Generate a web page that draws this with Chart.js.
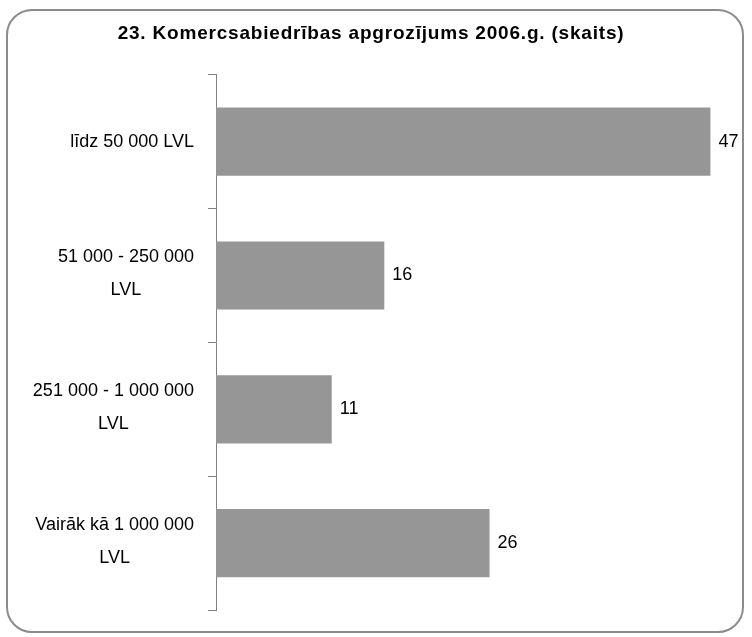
<!DOCTYPE html>
<html>
<head>
<meta charset="utf-8">
<script src="https://cdn.jsdelivr.net/npm/chart.js@4"></script>
<style>
  body { margin: 0; background: #fff; }
  #wrap { position: relative; width: 752px; height: 637px; }
  #frame {
    position: absolute; left: 6px; top: 9px; width: 738px; height: 624px;
    border: 2px solid #8c8c8c; border-radius: 26px; box-sizing: border-box;
  }
  canvas { position: absolute; left: 0; top: 0; }
</style>
</head>
<body>
<div id="wrap">
  <div id="frame"></div>
  <canvas id="myChart" width="752" height="637"></canvas>
</div>
<script>
const titleText = '23. Komercsabiedrības apgrozījums 2006.g. (skaits)';
const categories = [
    ['līdz 50 000 LVL'],
    ['51 000 - 250 000', 'LVL'],
    ['251 000 - 1 000 000', 'LVL'],
    ['Vairāk kā 1 000 000', 'LVL']
];
const values = [47, 16, 11, 26];

const fontFamily = '"Liberation Sans", Arial, sans-serif';

// a bit of letter spacing for the title only (title box is drawn before the datasets)
const titleSpacing = {
    id: 'titleSpacing',
    beforeDraw(chart) { chart.ctx.letterSpacing = '0.8px'; },
    beforeDatasetsDraw(chart) { chart.ctx.letterSpacing = '0px'; }
};

// value labels at the end of each bar
const valueLabels = {
    id: 'valueLabels',
    afterDatasetsDraw(chart) {
        const ctx = chart.ctx;
        const meta = chart.getDatasetMeta(0);
        ctx.save();
        ctx.font = '18px ' + fontFamily;
        ctx.fillStyle = '#000';
        ctx.textAlign = 'left';
        ctx.textBaseline = 'middle';
        meta.data.forEach((bar, i) => {
            ctx.fillText(String(values[i]), bar.x + 8, bar.y);
        });
        ctx.restore();
    }
};

// category labels: each line centred on the widest line of its label
const catLabels = {
    id: 'catLabels',
    afterDraw(chart) {
        const ctx = chart.ctx;
        const yScale = chart.scales.y;
        const rightEdge = yScale.right - 22;
        const lineH = 33;
        ctx.save();
        ctx.font = '18px ' + fontFamily;
        ctx.fillStyle = '#000';
        ctx.textAlign = 'center';
        ctx.textBaseline = 'middle';
        categories.forEach((lines, i) => {
            const widest = Math.max(...lines.map(l => ctx.measureText(l).width));
            const cx = rightEdge - widest / 2;
            const cy = yScale.getPixelForValue(i);
            const startY = cy - (lines.length - 1) * lineH / 2 - (lines.length > 1 ? 2 : 0);
            lines.forEach((l, j) => ctx.fillText(l, cx, startY + j * lineH));
        });
        ctx.restore();
    }
};

var ctx = document.getElementById('myChart').getContext('2d');
var chart = new Chart(ctx, {
    type: 'bar',
    data: {
        labels: categories,
        datasets: [{
            data: values,
            backgroundColor: '#969696',
            borderWidth: 0,
            barPercentage: 0.51,
            categoryPercentage: 1
        }]
    },
    options: {
        indexAxis: 'y',
        responsive: false,
        animation: false,
        layout: { padding: { left: 0, right: 10, top: 0, bottom: 27 } },
        plugins: {
            legend: { display: false },
            tooltip: { enabled: false },
            title: {
                display: true,
                text: titleText,
                color: '#000',
                font: { family: fontFamily, size: 19, weight: 'bold' },
                padding: { top: 22, bottom: 30 }
            }
        },
        scales: {
            x: {
                display: false,
                min: 0,
                max: 50
            },
            y: {
                afterFit(scale) { scale.width = 216; },
                grid: {
                    offset: true,
                    drawOnChartArea: false,
                    drawTicks: true,
                    tickLength: 8,
                    color: '#808080'
                },
                border: { display: true, color: '#808080', width: 1 },
                ticks: { display: false }
            }
        }
    },
    plugins: [titleSpacing, valueLabels, catLabels]
});
</script>
</body>
</html>
